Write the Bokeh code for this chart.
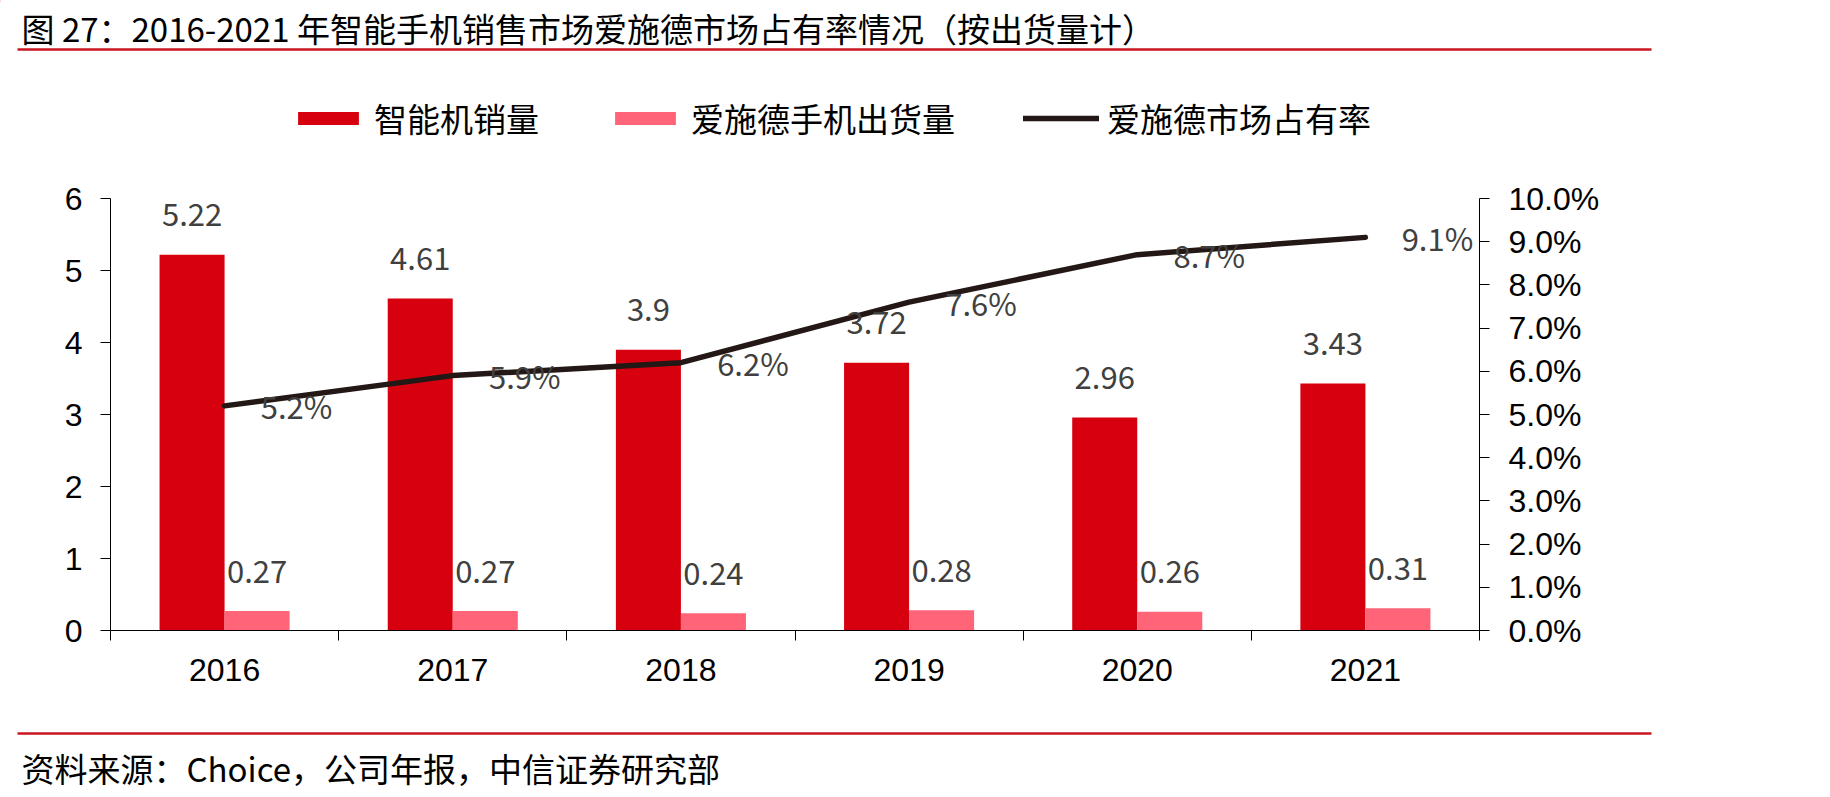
from bokeh.plotting import figure
from bokeh.models import (Range1d, LinearAxis, FixedTicker, NumeralTickFormatter,
                          Legend, LegendItem, ColumnDataSource)
from bokeh.layouts import column
from bokeh.embed import file_html
from bokeh.resources import INLINE
from bokeh.core.properties import value

# ---------------- data ----------------
years = ["2016", "2017", "2018", "2019", "2020", "2021"]
smartphone_sales = [5.22, 4.61, 3.90, 3.72, 2.96, 3.43]
aisidi_shipments = [0.27, 0.27, 0.24, 0.28, 0.26, 0.31]
aisidi_share = [0.052, 0.059, 0.062, 0.076, 0.087, 0.091]
sales_labels = ["5.22", "4.61", "3.9", "3.72", "2.96", "3.43"]
ship_labels = ["0.27", "0.27", "0.24", "0.28", "0.26", "0.31"]
share_labels = ["5.2%", "5.9%", "6.2%", "7.6%", "8.7%", "9.1%"]
left_ticks = [0, 1, 2, 3, 4, 5, 6]
right_ticks = [0.0, 0.01, 0.02, 0.03, 0.04, 0.05, 0.06, 0.07, 0.08, 0.09, 0.10]

title_text = "图 27：2016-2021 年智能手机销售市场爱施德市场占有率情况（按出货量计）"
source_text = "资料来源：Choice，公司年报，中信证券研究部"
legend_names = ["智能机销量", "爱施德手机出货量", "爱施德市场占有率"]

RED = "#D7000F"
PINK = "#FF6478"
DARK = "#231815"
RULE = "#C8161E"
LABEL = "#404040"
CJK = "Noto Sans CJK SC"
LAT = "Liberation Sans"

W = 1830
BW = 0.285  # bar width in category units

centers = [i + 0.5 for i in range(len(years))]
src = ColumnDataSource(dict(
    cx=centers,
    rx=[c - BW / 2 for c in centers],
    px=[c + BW / 2 for c in centers],
    sales=smartphone_sales,
    ship=aisidi_shipments,
    share=aisidi_share,
    sl=sales_labels,
    shl=ship_labels,
    pl=share_labels,
))

bar_sales_style = dict(fill_color=RED, line_color=None)
bar_ship_style = dict(fill_color=PINK, line_color=None)
line_style = dict(line_color=DARK, line_width=5.5, line_cap="round", line_join="round")

# ---------------- head (title + rule + legend) ----------------
HH = 160
head = figure(width=W, height=HH, x_range=Range1d(0, W), y_range=Range1d(HH, 0),
              output_backend="svg", toolbar_location=None, min_border=0,
              outline_line_color=None, background_fill_color="white",
              border_fill_color="white", frame_align=False)
head.axis.visible = False
head.grid.visible = False
head.text(x=[21], y=[27], text=[title_text], text_font=value(CJK),
          text_font_size="33px", text_color="black", text_baseline="middle",
          text_align="left")
head.segment(x0=[17], y0=[49], x1=[1651], y1=[49], line_color=RULE, line_width=2.5)

# legend proxies (same styles as the chart series), placed off-canvas
lg_sales = head.vbar(x=[-500], top=[1], width=1, **bar_sales_style)
lg_ship = head.vbar(x=[-500], top=[1], width=1, **bar_ship_style)
lg_share = head.line(x=[-600, -500], y=[1, 1], **line_style)

legend = Legend(items=[
    LegendItem(label=legend_names[0], renderers=[lg_sales]),
    LegendItem(label=legend_names[1], renderers=[lg_ship]),
    LegendItem(label=legend_names[2], renderers=[lg_share]),
], orientation="horizontal", location=(290, 18),
    label_text_font=CJK, label_text_font_size="33px", label_text_color="black",
    glyph_width=76, glyph_height=16, label_standoff=8, spacing=68,
    padding=0, margin=0, border_line_color=None, background_fill_alpha=0)
head.add_layout(legend, "center")

# ---------------- main chart ----------------
MH = 720 - HH
p = figure(width=W, height=MH, x_range=Range1d(0, 6), y_range=Range1d(0, 6),
           output_backend="svg", toolbar_location=None,
           min_border_left=110, min_border_right=W - 1479,
           min_border_top=198 - HH, min_border_bottom=720 - 630,
           outline_line_color=None, background_fill_color="white",
           border_fill_color="white", frame_align=False)
p.grid.visible = False
p.extra_y_ranges = {"pct": Range1d(0, 0.10)}

p.vbar(x="rx", top="sales", width=BW, source=src, **bar_sales_style)
p.vbar(x="px", top="ship", width=BW, source=src, **bar_ship_style)
p.line(x="cx", y="share", source=src, y_range_name="pct", **line_style)

p.text(x="rx", y="sales", text="sl", source=src, y_offset=-40,
       text_font=value(CJK), text_font_size="31px", text_color=LABEL,
       text_align="center", text_baseline="middle")
p.text(x="px", y="ship", text="shl", source=src, y_offset=-40,
       text_font=value(CJK), text_font_size="31px", text_color=LABEL,
       text_align="center", text_baseline="middle")
p.text(x="cx", y="share", text="pl", source=src, y_range_name="pct", x_offset=72,
       text_font=value(CJK), text_font_size="31px", text_color=LABEL,
       text_align="center", text_baseline="middle")

# x axis: labels at centres, ticks at category boundaries
xax = p.xaxis[0]
xax.ticker = FixedTicker(ticks=centers, minor_ticks=[0, 1, 2, 3, 4, 5, 6])
xax.major_label_overrides = {c: y for c, y in zip(centers, years)}
xax.major_tick_out = 0
xax.major_tick_in = 0
xax.minor_tick_out = 10
xax.minor_tick_in = 0
xax.minor_tick_line_color = "black"
xax.axis_line_color = "black"
xax.major_label_text_font = LAT
xax.major_label_text_font_size = "32px"
xax.major_label_text_color = "black"
xax.major_label_standoff = 18

yax = p.yaxis[0]
yax.ticker = FixedTicker(ticks=left_ticks, minor_ticks=[])
yax.major_tick_out = 10
yax.major_tick_in = 0
yax.minor_tick_out = 0
yax.major_tick_line_color = "black"
yax.axis_line_color = "black"
yax.major_label_text_font = LAT
yax.major_label_text_font_size = "32px"
yax.major_label_text_color = "black"
yax.major_label_standoff = 18

rax = LinearAxis(y_range_name="pct", ticker=FixedTicker(ticks=right_ticks, minor_ticks=[]),
                 formatter=NumeralTickFormatter(format="0.0%"))
rax.major_tick_out = 10
rax.major_tick_in = 0
rax.minor_tick_out = 0
rax.major_tick_line_color = "black"
rax.axis_line_color = "black"
rax.major_label_text_font = LAT
rax.major_label_text_font_size = "32px"
rax.major_label_text_color = "black"
rax.major_label_standoff = 19
p.add_layout(rax, "right")

# ---------------- foot (rule + source) ----------------
FH = 797 - 720
foot = figure(width=W, height=FH, x_range=Range1d(0, W), y_range=Range1d(FH, 0),
              output_backend="svg", toolbar_location=None, min_border=0,
              outline_line_color=None, background_fill_color="white",
              border_fill_color="white", frame_align=False)
foot.axis.visible = False
foot.grid.visible = False
foot.segment(x0=[17], y0=[13], x1=[1651], y1=[13], line_color=RULE, line_width=2.5)
foot.text(x=[21], y=[47], text=[source_text], text_font=value(CJK),
          text_font_size="33px", text_color="black", text_baseline="middle",
          text_align="left")

layout = column(head, p, foot, spacing=0)
open("out.html", "w").write(file_html(layout, INLINE))
